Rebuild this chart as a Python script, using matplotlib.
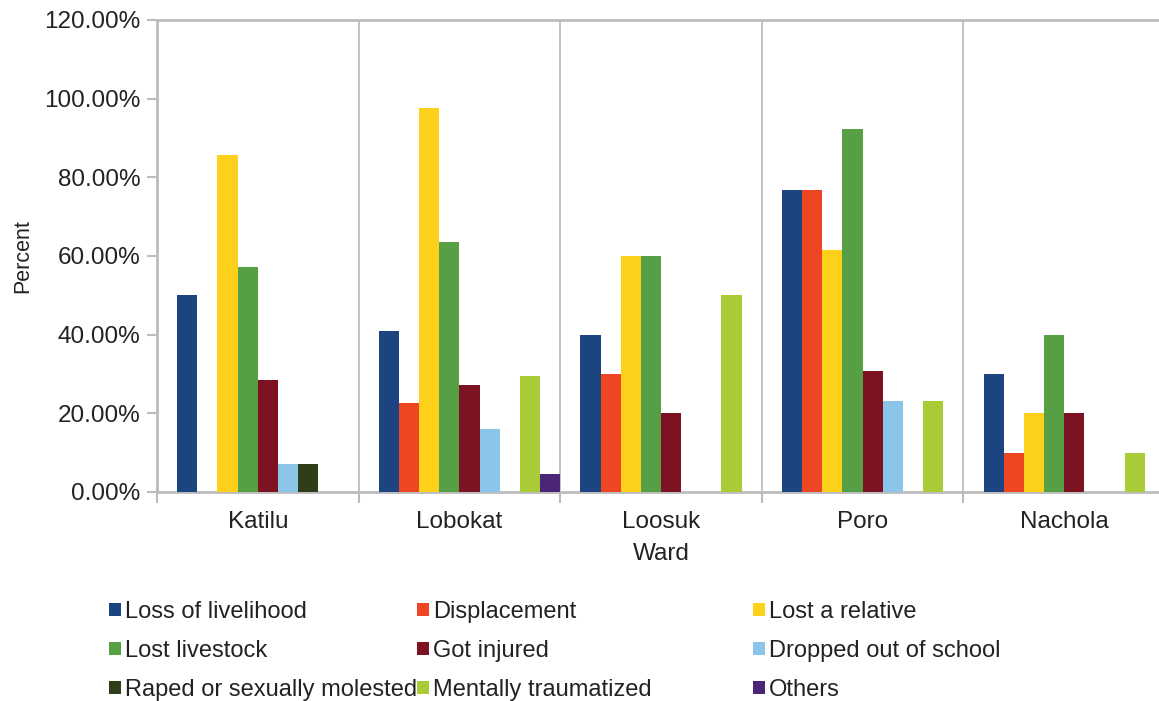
import matplotlib.pyplot as plt
from matplotlib.patches import Patch
from matplotlib.ticker import FuncFormatter
import numpy as np

plt.rcParams['font.family'] = ['Liberation Sans', 'DejaVu Sans']

wards = ['Katilu', 'Lobokat', 'Loosuk', 'Poro', 'Nachola']

loss_of_livelihood = [50.0, 40.9, 40.0, 76.9, 30.0]
displacement = [0.0, 22.7, 30.0, 76.9, 10.0]
lost_a_relative = [85.7, 97.7, 60.0, 61.5, 20.0]
lost_livestock = [57.1, 63.6, 60.0, 92.3, 40.0]
got_injured = [28.6, 27.3, 20.0, 30.8, 20.0]
dropped_out = [7.1, 15.9, 0.0, 23.1, 0.0]
raped = [7.1, 0.0, 0.0, 0.0, 0.0]
mentally_traumatized = [0.0, 29.5, 50.0, 23.1, 10.0]
others = [0.0, 4.5, 0.0, 0.0, 0.0]

series = [
    ('Loss of livelihood', loss_of_livelihood, '#1b4480'),
    ('Displacement', displacement, '#ee4523'),
    ('Lost a relative', lost_a_relative, '#fdd01c'),
    ('Lost livestock', lost_livestock, '#579f44'),
    ('Got injured', got_injured, '#7c1222'),
    ('Dropped out of school', dropped_out, '#8bc5ea'),
    ('Raped or sexually molested', raped, '#2f3d19'),
    ('Mentally traumatized', mentally_traumatized, '#a9cb36'),
    ('Others', others, '#4b2676'),
]

txt = '#222222'
fs = 17.5

fig = plt.figure(figsize=(11.59, 7.01), dpi=100)
# axes run slightly past the right edge of the canvas
ax = fig.add_axes([157 / 1159, 209 / 701, 1008 / 1159, 472 / 701])

x = np.arange(len(wards))
w = 0.1
for i, (name, vals, col) in enumerate(series):
    ax.bar(x - 0.4 + w * i + w / 2, vals, width=w, color=col, label=name, zorder=3)

ax.set_xlim(-0.5, 4.5)
ax.set_ylim(0, 120)

grey = '#bcbcbc'
for b in np.arange(0.5, 4.5, 1.0):
    ax.axvline(b, color=grey, lw=1.3, zorder=1)

for s in ['left', 'bottom', 'top']:
    ax.spines[s].set_color(grey)
    ax.spines[s].set_linewidth(2)
ax.spines['right'].set_visible(False)

ax.set_yticks(np.arange(0, 121, 20))
ax.yaxis.set_major_formatter(FuncFormatter(lambda v, p: '%.2f%%' % v))
ax.tick_params(axis='y', length=7, width=1.5, color=grey, labelsize=fs,
               labelcolor=txt, pad=5)

ax.set_xticks(x)
ax.set_xticklabels(wards)
ax.set_xticks(np.arange(-0.5, 5.0, 1.0), minor=True)
ax.tick_params(axis='x', which='major', length=0, labelsize=fs,
               labelcolor=txt, pad=14)
ax.tick_params(axis='x', which='minor', length=8, width=1.5, color=grey)

ax.set_xlabel('Ward', fontsize=fs, color=txt, labelpad=7)
ax.set_ylabel('Percent', fontsize=15.5, color=txt, labelpad=8)

# legend laid out as three columns, filled row by row
col_x = [97 / 1159, 405 / 1159, 741 / 1159]
for c in range(3):
    handles = [Patch(facecolor=series[r * 3 + c][2], label=series[r * 3 + c][0])
               for r in range(3)]
    fig.legend(handles=handles, loc='upper left', bbox_to_anchor=(col_x[c], 1 - 589 / 701),
               frameon=False, fontsize=17, handlelength=0.5, handleheight=0.5,
               handletextpad=0.2, labelspacing=0.72, borderpad=0, labelcolor=txt)

fig.savefig('out.png', dpi=100)
